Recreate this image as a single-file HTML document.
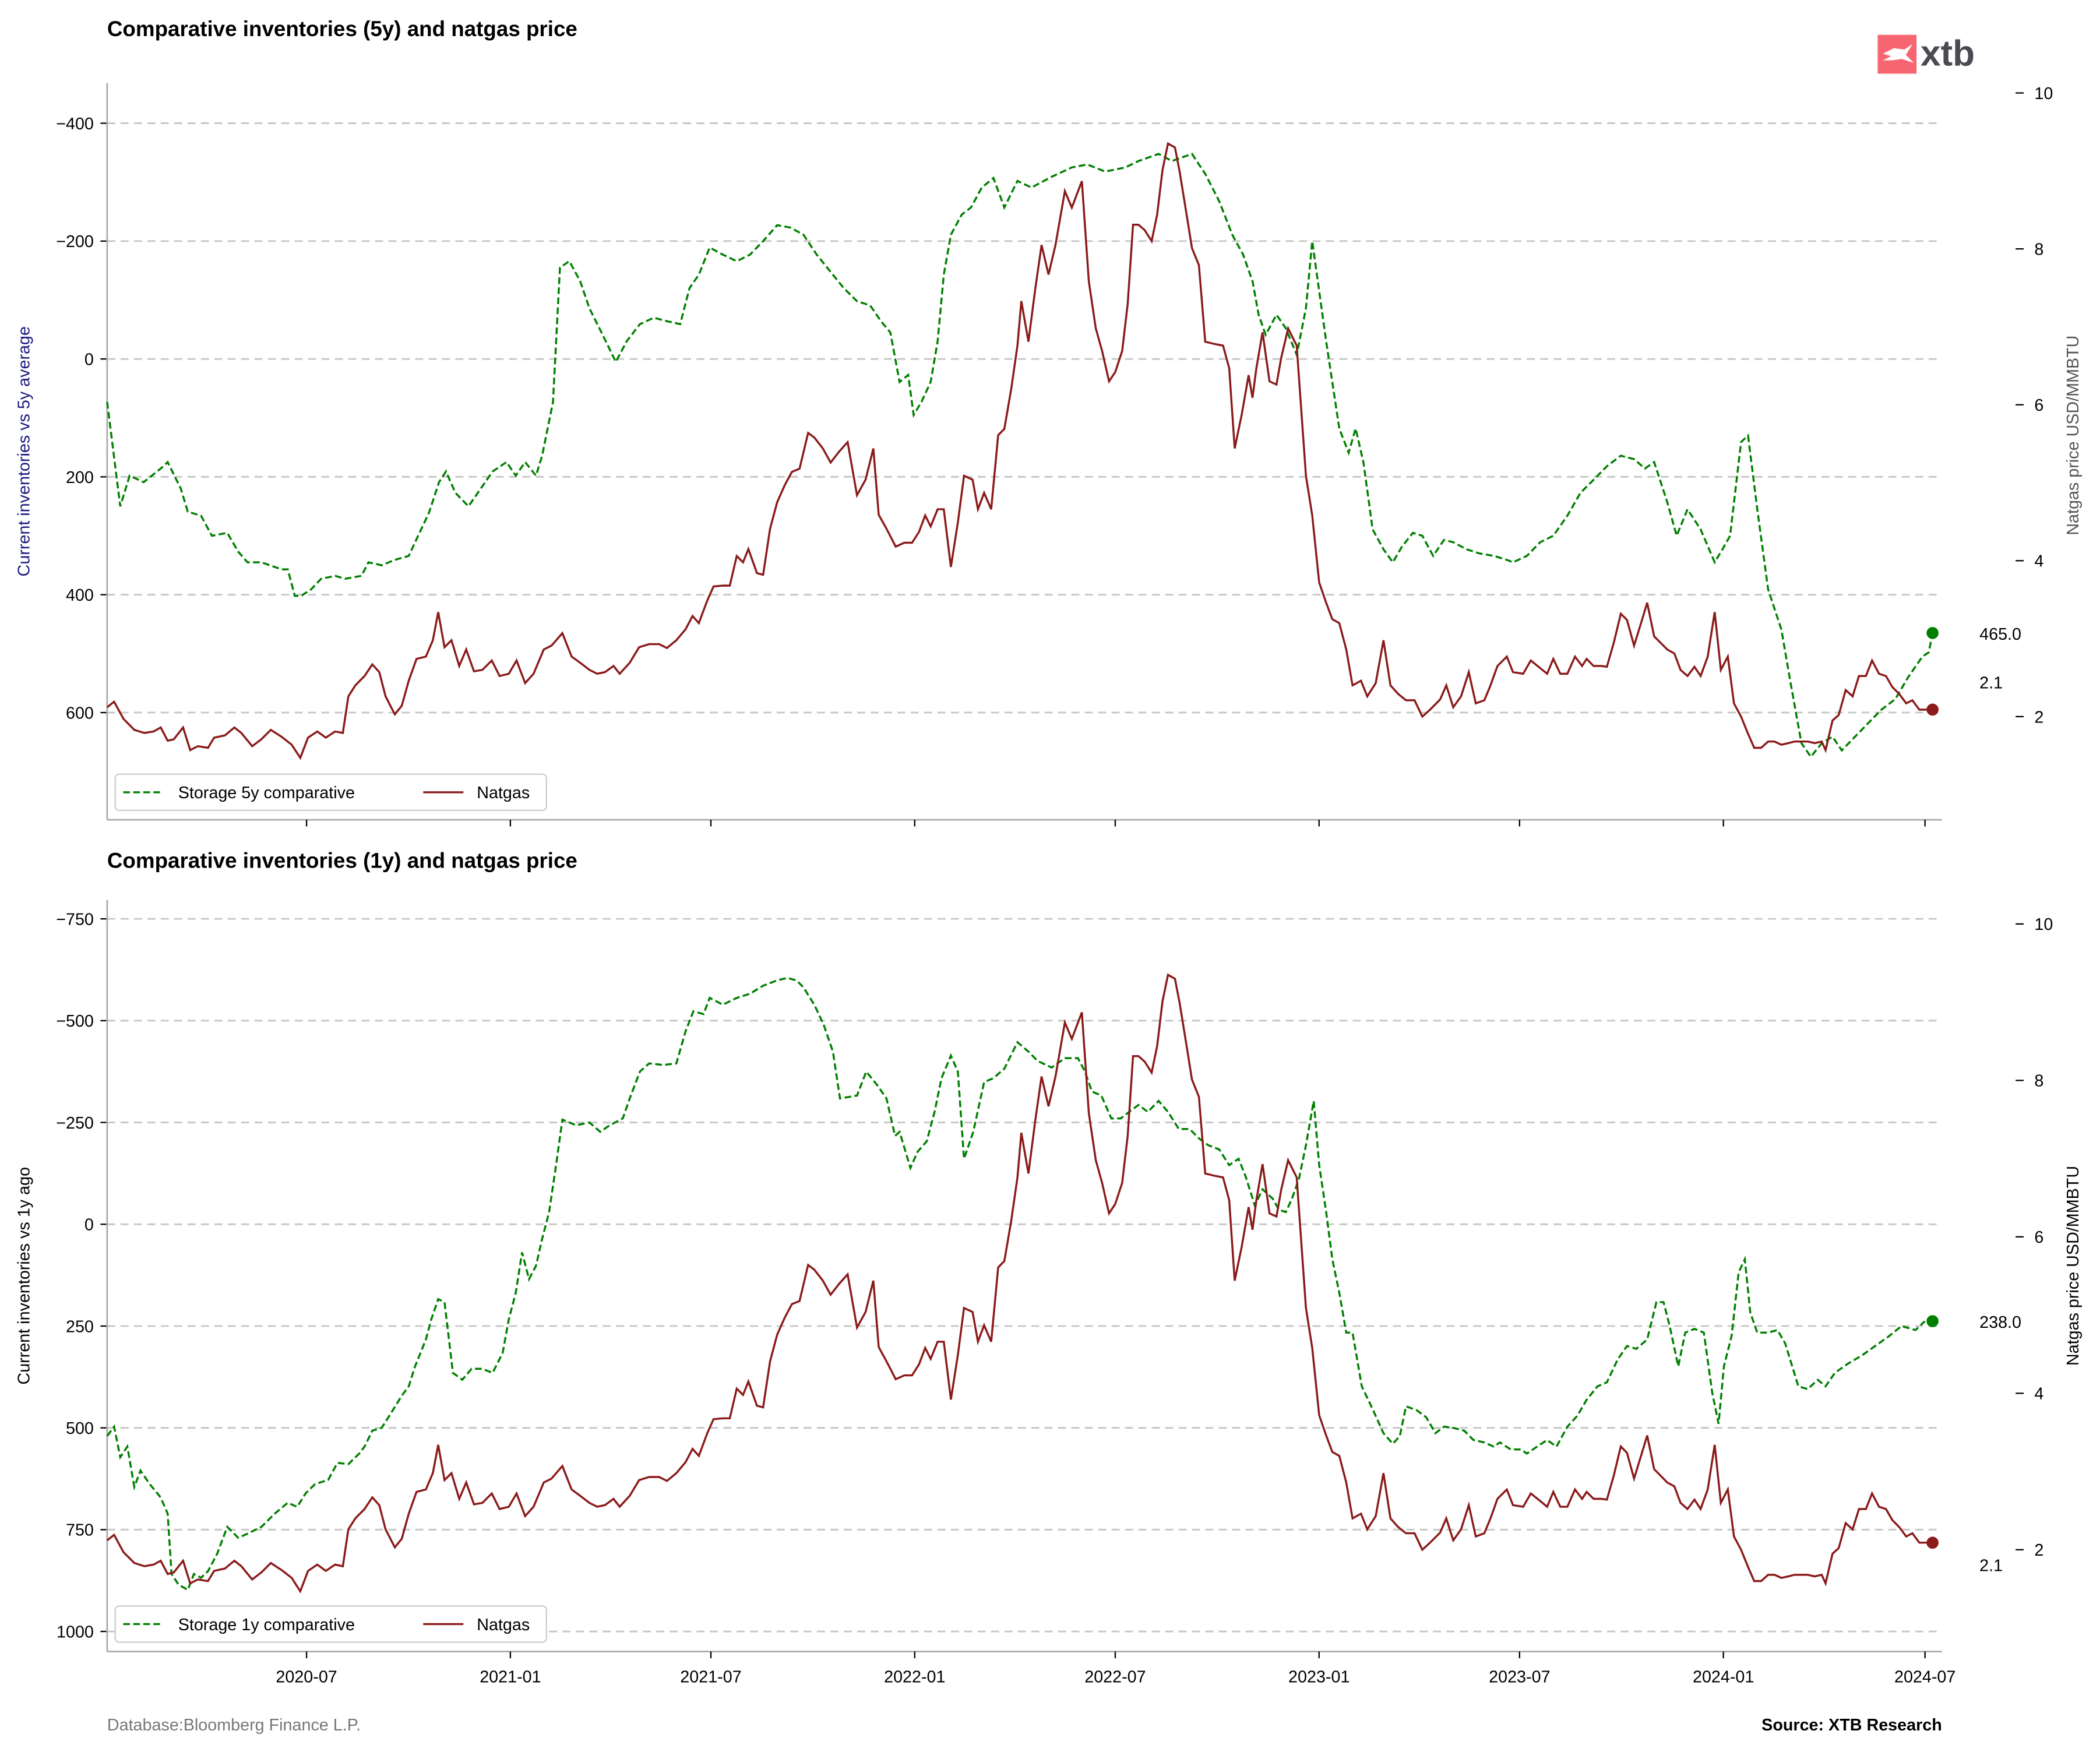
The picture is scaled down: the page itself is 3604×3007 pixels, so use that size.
<!DOCTYPE html>
<html><head><meta charset="utf-8"><style>
html,body{margin:0;padding:0;background:#fff}
svg{display:block;font-family:"Liberation Sans",Arial,sans-serif}
</style></head><body>
<svg id="c" width="3604" height="3007" viewBox="0 0 1568 1308" preserveAspectRatio="none" xmlns="http://www.w3.org/2000/svg"></svg>
<script>
// ---- data (week offsets from 2020-01-03) ----
const green5Weeks=[0,1.7,2.9,4.7,6.9,7.8,9.5,10.4,12.1,13.5,15.5,16.9,18.1,19.9,22.5,23.3,24.2,25,26.3,27.6,29.4,30.7,32.8,33.7,35.4,37.1,38.9,40.1,41.5,42.8,43.7,44.9,46.6,48.4,49.7,51.5,52.7,53.9,55.3,56.1,57.5,58.4,59.6,61,62.2,63.9,65.6,67,68.7,70.5,72.2,73.9,75.1,76.3,77.7,79.4,81.2,82.9,84.6,86.4,88.1,89.8,91.5,93.6,95,96.7,98.4,99.8,101,102.2,103.3,104,105,106.2,107.1,107.9,108.8,110.2,111.4,112.8,114.3,115.7,117.4,119.2,121.8,124.4,126.4,128.7,131.3,133,135.6,137.3,139.9,141.6,143.4,145.1,146.5,147.7,148.5,149.4,150.8,152,153.4,154.6,155.4,157.2,158.9,160.1,161,162,163.2,164.6,165.8,167,168.4,169.6,171,172.4,173.6,175.3,177,178.8,180.5,181.3,183.1,184.8,186.5,188.3,190,191.7,193.4,195.2,196.9,198.3,199.5,201.2,202.4,203.8,205.5,207.3,208.3,209.3,210.7,211.6,212.8,214.2,215.9,217.1,218.5,219.7,221.1,222.5,223.7,225.4,227.1,228.8,230.6,232.3,234.1,234.9,235.4];
const green5Values=[73,250,198,209,186,175,220,259,266,300,295,327,345,345,357,357,402,402,391,373,368,373,368,345,350,341,334,300,261,209,191,227,250,216,191,175,198,175,198,164,73,-155,-166,-132,-86,-41,5,-30,-59,-70,-64,-59,-120,-143,-189,-177,-166,-177,-200,-227,-223,-211,-177,-143,-120,-98,-91,-64,-45,39,27,95,73,39,-30,-143,-211,-245,-257,-291,-307,-257,-302,-291,-309,-325,-330,-318,-325,-336,-348,-336,-348,-314,-268,-211,-177,-132,-75,-41,-75,-52,-7,-86,-200,-30,118,159,118,175,289,323,345,318,295,300,334,307,311,323,330,334,341,345,334,311,300,266,227,205,182,164,170,186,175,243,300,255,289,345,323,300,141,130,255,391,459,550,652,675,652,641,664,641,618,595,577,539,505,498,465];
const gasWeeks=[0,0.9,2.1,3.5,4.8,6,6.9,7.8,8.6,9.8,10.7,11.7,13,13.8,15.2,16.4,17.3,18.7,19.9,21.1,22.5,23.8,24.9,25.9,27.1,28.2,29.4,30.4,31.1,32,33.2,34.2,35.1,35.9,37.1,38,38.9,39.9,41.1,42,42.7,43.5,44.4,45.4,46.3,47.3,48.4,49.6,50.6,51.8,52.8,53.9,55,56.3,57.3,58.7,59.9,61,62.2,63.2,64.2,65.3,66.1,67.4,68.6,69.9,71.2,72.2,73.4,74.6,75.5,76.3,77.4,78.2,79.4,80.3,81.2,82,82.7,83.8,84.6,85.5,86.4,87.4,88.3,89.3,90.4,91.2,92.3,93.3,94.4,95.5,96.7,97.8,98.8,99.5,100.5,101.7,102.8,103.8,104.7,105.5,106.2,107.1,107.9,108.8,109.7,110.5,111.6,112.3,113.1,114,114.9,115.7,116.6,117.4,117.9,118.8,119.7,120.5,121.4,122.3,123.5,124.4,125.7,126.6,127.5,128.3,129.2,130,130.9,131.6,132.3,133,133.8,134.7,135.4,136.1,136.8,137.7,138.3,139.2,139.9,140.8,141.6,142.8,143.9,144.7,145.4,146.3,147.2,147.7,148.2,149,149.9,150.8,151.4,152.3,153.4,154.6,155.4,156.3,157.2,158,158.9,159.8,160.6,161.7,162.5,163.6,164.6,165.5,166.5,167.5,168.6,169.6,170.6,171.9,172.7,173.6,174.6,175.6,176.5,177.6,178.4,179.3,180.5,181.3,182.6,183.6,184.6,185.7,186.5,187.4,188.3,189.3,190.2,190.8,191.7,192.7,193.4,194.3,195.2,196,196.9,197.8,198.6,199.5,200.3,201.2,202.1,202.9,203.8,204.7,205.5,206.4,207.3,208.1,209,209.8,210.7,211.6,212.4,213.3,214.2,215,215.9,216.8,217.6,218.5,219.3,220.2,221.1,221.6,222.5,223.3,224.2,225.1,225.9,226.8,227.6,228.5,229.4,230.2,231.1,232,232.8,233.7,234.6,235.4];
const gasValues=[2.12,2.19,1.97,1.83,1.79,1.81,1.86,1.69,1.71,1.86,1.57,1.62,1.6,1.73,1.76,1.86,1.79,1.62,1.71,1.83,1.74,1.64,1.47,1.73,1.81,1.73,1.81,1.79,2.26,2.4,2.52,2.67,2.57,2.26,2.03,2.14,2.46,2.74,2.77,2.98,3.34,2.89,2.98,2.65,2.86,2.58,2.6,2.72,2.52,2.55,2.72,2.43,2.55,2.86,2.91,3.07,2.77,2.69,2.6,2.55,2.57,2.65,2.55,2.69,2.89,2.93,2.93,2.88,2.98,3.12,3.29,3.2,3.49,3.67,3.68,3.68,4.06,3.98,4.15,3.84,3.82,4.41,4.75,4.97,5.14,5.18,5.64,5.58,5.44,5.26,5.4,5.52,4.84,5.04,5.44,4.59,4.41,4.18,4.23,4.23,4.37,4.58,4.44,4.66,4.66,3.92,4.49,5.09,5.04,4.66,4.87,4.66,5.61,5.69,6.21,6.76,7.33,6.81,7.5,8.05,7.67,8.05,8.74,8.53,8.87,7.58,6.98,6.69,6.3,6.42,6.69,7.29,8.31,8.31,8.24,8.1,8.44,9.01,9.35,9.3,8.99,8.44,8.01,7.79,6.81,6.78,6.76,6.47,5.44,5.87,6.38,6.09,6.47,6.93,6.3,6.26,6.6,6.98,6.76,5.09,4.58,3.72,3.46,3.25,3.2,2.86,2.4,2.46,2.26,2.43,2.98,2.4,2.29,2.21,2.21,2,2.09,2.22,2.4,2.12,2.26,2.57,2.17,2.21,2.4,2.65,2.77,2.57,2.55,2.72,2.64,2.55,2.74,2.55,2.55,2.77,2.65,2.74,2.65,2.65,2.64,2.95,3.32,3.24,2.91,3.2,3.46,3.03,2.95,2.86,2.81,2.6,2.52,2.64,2.52,2.77,3.34,2.6,2.77,2.17,2,1.78,1.6,1.6,1.68,1.68,1.64,1.66,1.68,1.68,1.68,1.66,1.68,1.57,1.95,2.02,2.34,2.26,2.52,2.52,2.72,2.55,2.52,2.38,2.29,2.17,2.21,2.09,2.09,2.09];
const green1Weeks=[0,0.9,1.7,2.6,3.5,4.3,5.5,6.9,7.8,8.3,9.2,10.4,11.2,12.1,13,14.2,15.5,16.9,18.1,19.9,21.6,23.3,24.5,25.6,26.8,28.5,29.7,31.1,32.5,33.2,34.2,35.4,36.6,38,38.9,39.7,41.1,41.8,42.7,43.5,44.6,45.8,47,48.4,49.7,51,51.8,52.7,53.5,54.4,55.3,56.1,57,57.9,58.7,60.5,62.2,63.6,64.8,66.5,67.4,68.7,69.9,71.7,73.4,74.6,75.6,76.9,77.7,79.4,81.2,82.9,84.6,86.4,87.7,88.9,89.8,91.2,92.4,93.6,94.5,96.7,97.9,99.3,100.5,101.6,102.2,103.6,104.5,105.7,106.7,107.6,108.8,109.7,110.5,111.7,113.1,114.3,115.7,117.4,118.8,120,121.8,123.5,125.2,126.1,127,128.2,129.5,130.7,131.8,133,134.2,135.6,136.8,138.2,139.6,140.8,142,143.4,144.7,145.9,146.8,148,149,150.3,151.1,152,152.8,153.7,154.6,155.6,156.3,157.2,158,158.9,159.8,160.6,161.8,163.2,164.6,165.8,166.7,167.5,168.9,170.1,171.3,172.4,173.6,175,176.2,177.6,178.8,179.6,181,182.3,183.1,184.4,185.7,186.9,188.3,189.6,190.8,192.2,193.4,194.8,196,197.2,198.6,199.8,200.7,201.5,202.6,203.5,204.7,205.9,207,207.8,208.5,209.5,210.4,211.2,211.9,212.8,214.2,215.4,216.4,217.3,218.1,219.3,220.6,221.6,222.8,224.5,226.3,228,229.7,231.4,233.2,234.4,235.4];
const green1Values=[520,497,572,546,645,605,638,671,711,859,885,898,859,868,852,809,743,770,760,743,711,684,694,661,638,628,586,589,563,546,507,500,464,421,398,349,283,234,184,191,365,382,355,355,365,316,234,168,69,135,102,36,-30,-145,-257,-243,-250,-227,-243,-260,-309,-375,-395,-391,-395,-474,-523,-516,-556,-539,-556,-566,-586,-599,-605,-599,-582,-539,-490,-424,-309,-316,-375,-342,-309,-217,-227,-138,-178,-204,-276,-359,-414,-375,-161,-227,-349,-359,-382,-447,-424,-401,-385,-408,-408,-375,-326,-316,-260,-260,-276,-293,-276,-303,-276,-234,-234,-211,-194,-184,-145,-161,-118,-46,-86,-63,-36,-30,-63,-112,-194,-303,-145,-30,86,168,266,266,398,454,513,539,520,447,457,474,513,497,500,507,530,536,546,536,553,553,563,546,530,546,497,470,431,398,388,332,299,306,283,191,191,250,349,266,257,266,414,490,349,273,118,86,217,266,266,260,293,349,398,405,382,398,365,342,322,299,276,250,260,238];
const xTickLabels=["2020-07","2021-01","2021-07","2022-01","2022-07","2023-01","2023-07","2024-01","2024-07"];
const topLeftTicks=[-400,-200,0,200,400,600];
const botLeftTicks=[-750,-500,-250,0,250,500,750,1000];
const rightTicks=[2,4,6,8,10];

const NS="http://www.w3.org/2000/svg";
const svg=document.getElementById('c');
function mk(tag,attrs,parent){const e=document.createElementNS(NS,tag);for(const k in attrs)e.setAttribute(k,attrs[k]);(parent||svg).appendChild(e);return e;}
const X0=80,X1=1450;
const START=Date.UTC(2020,0,3);
const PXDAY=5.79/7;
function xDay(d){return X0+d*PXDAY;}
function xWeek(w){return xDay(w*7);}
function xDate(s){const [y,m]=s.split('-').map(Number);return xDay((Date.UTC(y,m-1,1)-START)/86400000);}

function panel(o){
  const g=mk('g',{});
  
  
  const yL=v=>o.lZeroY+v*o.lScale;
  const yR=p=>o.r2Y-(p-2)*o.rScale;
  const t=mk('text',{x:80,y:o.titleY,'font-size':16,'font-weight':'bold',fill:'#000'},g);t.textContent=o.title;
  
  o.lTicks.forEach(v=>{
    const y=yL(v);
    const gl=mk('line',{x1:X0,x2:X1,y1:y,y2:y,stroke:'#c8c8c8','stroke-width':1.3,'stroke-dasharray':'6,4'},g);
    
    mk('line',{x1:X0-5,x2:X0,y1:y,y2:y,stroke:'#000','stroke-width':1},g);
    const tl=mk('text',{x:X0-10,y:y+4.5,'font-size':12.5,'text-anchor':'end',fill:'#000'},g);
    tl.textContent=v<0?'\u2212'+Math.abs(v):String(v);
    
  });
  rightTicks.forEach(p=>{
    const y=yR(p);
    mk('line',{x1:1505,x2:1511,y1:y,y2:y,stroke:'#000','stroke-width':1},g);
    const tl=mk('text',{x:1519,y:y+4.5,'font-size':12.5,fill:'#000'},g);tl.textContent=p;
    
  });
  mk('line',{x1:X0,x2:X0,y1:o.top,y2:o.bot,stroke:'#aaa','stroke-width':1.2},g);
  mk('line',{x1:X0,x2:X1,y1:o.bot,y2:o.bot,stroke:'#aaa','stroke-width':1.2},g);
  xTickLabels.forEach(s=>{
    const x=xDate(s);
    mk('line',{x1:x,x2:x,y1:o.bot,y2:o.bot+5,stroke:'#000','stroke-width':1},g);
    if(o.xLabels){const tl=mk('text',{x:x,y:o.bot+23,'font-size':12.5,'text-anchor':'middle',fill:'#000'},g);tl.textContent=s;
      }
  });
  const la=mk('text',{transform:`translate(22,${(o.top+o.bot)/2}) rotate(-90)`,'font-size':12.5,'text-anchor':'middle',fill:o.lColor},g);la.textContent=o.lTitle;
  
  const ra=mk('text',{transform:`translate(1552,${o.rTitleY}) rotate(-90)`,'font-size':12.5,'text-anchor':'middle',fill:o.rColor},g);ra.textContent='Natgas price USD/MMBTU';
  
  let d='';o.gw.forEach((w,i)=>{d+=(i?'L':'M')+xWeek(w).toFixed(1)+','+yL(o.gv[i]).toFixed(1);});
  const gp=mk('path',{d:d,fill:'none',stroke:'#008000','stroke-width':1.5,'stroke-dasharray':'5,2.5'},g);
  
  let d2='';gasWeeks.forEach((w,i)=>{d2+=(i?'L':'M')+xWeek(w).toFixed(1)+','+yR(gasValues[i]).toFixed(1);});
  const rp=mk('path',{d:d2,fill:'none',stroke:'#8b1a1a','stroke-width':1.5},g);
  
  const lw=o.gw[o.gw.length-1],lv=o.gv[o.gv.length-1];
  const gd=mk('circle',{cx:xWeek(lw),cy:yL(lv),r:4.5,fill:'#008000'},g);
  
  const lg=gasValues[gasValues.length-1];
  const rd=mk('circle',{cx:xWeek(gasWeeks[gasWeeks.length-1]),cy:yR(lg),r:4.5,fill:'#8b1a1a'},g);
  
  const a1=mk('text',{x:1478,y:yL(lv)+5,'font-size':12.5,fill:'#000'},g);a1.textContent=lv.toFixed(1);
  
  const a2=mk('text',{x:1478,y:o.gasLabelY,'font-size':12.5,fill:'#000'},g);a2.textContent=lg.toFixed(1);
  
  const lgG=mk('g',{},g);
  mk('rect',{x:86,y:o.legY,width:322,height:27,rx:3,fill:'#fff',stroke:'#ccc','stroke-width':1},lgG);
  mk('line',{x1:92,x2:122,y1:o.legY+13.5,y2:o.legY+13.5,stroke:'#008000','stroke-width':1.5,'stroke-dasharray':'5,2.5'},lgG);
  const l1=mk('text',{x:133,y:o.legY+18,'font-size':12.5,fill:'#000'},lgG);l1.textContent=o.legText;
  
  mk('line',{x1:316,x2:346,y1:o.legY+13.5,y2:o.legY+13.5,stroke:'#8b1a1a','stroke-width':1.5},lgG);
  const l2=mk('text',{x:356,y:o.legY+18,'font-size':12.5,fill:'#000'},lgG);l2.textContent='Natgas';
  
}
panel({name:'top-panel',title:'Comparative inventories (5y) and natgas price',titleY:27,top:62,bot:612,lZeroY:268,lScale:0.44,r2Y:535,rScale:58.2,lTicks:topLeftTicks,xLabels:false,lTitle:'Current inventories vs 5y average',lColor:'#1a1a80',rColor:'#555',rTitleY:325,gw:green5Weeks,gv:green5Values,gasLabelY:514,legY:578,legText:'Storage 5y comparative'});
panel({name:'bottom-panel',title:'Comparative inventories (1y) and natgas price',titleY:648,top:672,bot:1233,lZeroY:914,lScale:0.304,r2Y:1157,rScale:58.4,lTicks:botLeftTicks,xLabels:true,lTitle:'Current inventories vs 1y ago',lColor:'#000',rColor:'#000',rTitleY:945,gw:green1Weeks,gv:green1Values,gasLabelY:1173,legY:1199,legText:'Storage 1y comparative'});
const f1=mk('text',{x:80,y:1292,'font-size':12.5,fill:'#777'});f1.textContent='Database:Bloomberg Finance L.P.';

const f2=mk('text',{x:1450,y:1292,'font-size':12.5,'font-weight':'bold','text-anchor':'end',fill:'#000'});f2.textContent='Source: XTB Research';

const lg=mk('g',{});
mk('rect',{x:1402,y:26,width:29,height:29,fill:'#f76670'},lg);
mk('path',{d:'M1406,40 L1414,36 L1422,37 L1428,33 L1423,41 L1429,47 L1420,44 L1413,45 L1406,45 L1412,42 Z',fill:'#fff'},lg);
const xt=mk('text',{x:1434,y:49,'font-size':27,'font-weight':'bold',fill:'#4a4a50'},lg);xt.textContent='xtb';
</script>
</body></html>
